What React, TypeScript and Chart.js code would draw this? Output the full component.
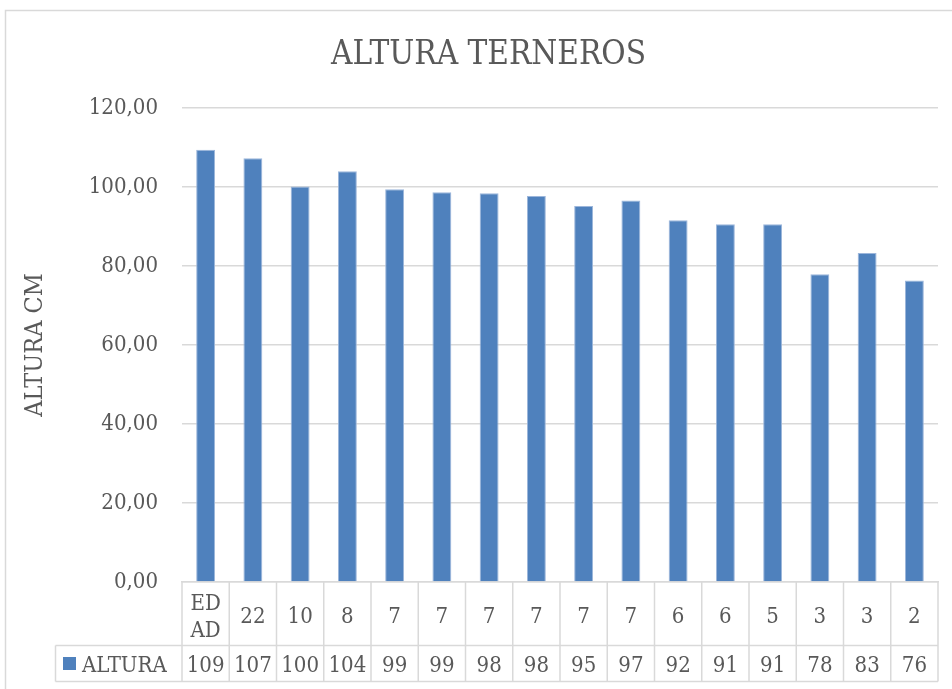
import React, { useEffect, useRef } from "react";
import { Chart, registerables } from "chart.js";

Chart.register(...registerables);

const TITLE = "ALTURA TERNEROS";
const Y_TITLE = "ALTURA CM";
const SERIES_NAME = "ALTURA";
const categories = ["EDAD", "22", "10", "8", "7", "7", "7", "7", "7", "7", "6", "6", "5", "3", "3", "2"];
const alturaValues = [109.4, 107.3, 100.1, 104.0, 99.4, 98.7, 98.4, 97.7, 95.2, 96.6, 91.6, 90.6, 90.6, 77.9, 83.3, 76.3];
const yMin = 0;
const yMax = 120;
const yStep = 20;

const FONT = "'DejaVu Serif Condensed', 'DejaVu Serif', serif";
const TEXT = "#595959";
const LINE = "#D9D9D9";
const BAR = "#4F81BD";

const fmt = (v: number) => v.toFixed(2).replace(".", ",");

const framePlugin = {
  id: "frame",
  afterLayout(chart: any) {
    // centre the title over the whole chart frame (as in the spreadsheet chart)
    if (chart.titleBlock) {
      chart.titleBlock.left = 25;
      chart.titleBlock.right = 952;
    }
  },
  beforeDraw(chart: any) {
    const ctx = chart.ctx;
    ctx.save();
    ctx.fillStyle = "#ffffff";
    ctx.fillRect(0, 0, chart.width, chart.height);
    ctx.strokeStyle = LINE;
    ctx.lineWidth = 1.5;
    ctx.strokeRect(5.5, 10.5, chart.width + 20, chart.height + 20);
    ctx.restore();
  },
};

const tablePlugin = {
  id: "dataTable",
  afterDraw(chart: any) {
    const ctx = chart.ctx;
    const xs = chart.scales.x;
    const area = chart.chartArea;
    const n = categories.length;
    const colW = (area.right - area.left) / n;
    const row1Top = area.bottom;
    const row1Bottom = 645.5;
    const row2Bottom = 681.5;
    const legendLeft = 55.5;
    ctx.save();
    ctx.strokeStyle = LINE;
    ctx.lineWidth = 1.5;
    ctx.beginPath();
    ctx.moveTo(legendLeft, row1Bottom);
    ctx.lineTo(area.right, row1Bottom);
    ctx.moveTo(legendLeft, row2Bottom);
    ctx.lineTo(area.right, row2Bottom);
    ctx.moveTo(legendLeft, row1Bottom);
    ctx.lineTo(legendLeft, row2Bottom);
    for (let i = 0; i <= n; i++) {
      const x = i < n ? xs.getPixelForValue(i) - colW / 2 : xs.getPixelForValue(n - 1) + colW / 2;
      ctx.moveTo(x, row1Top);
      ctx.lineTo(x, row2Bottom);
    }
    ctx.stroke();

    ctx.font = `22px ${FONT}`;
    ctx.fillStyle = TEXT;
    ctx.textAlign = "center";
    ctx.textBaseline = "alphabetic";
    for (let i = 0; i < n; i++) {
      const cx = xs.getPixelForValue(i);
      const label = categories[i];
      if (ctx.measureText(label).width > colW - 8) {
        const half = Math.ceil(label.length / 2);
        ctx.fillText(label.slice(0, half), cx, 609.5);
        ctx.fillText(label.slice(half), cx, 636.5);
      } else {
        ctx.fillText(label, cx, 623);
      }
      ctx.fillText(String(Math.round(alturaValues[i])), cx, 671.5);
    }
    ctx.fillStyle = BAR;
    ctx.fillRect(63, 657, 13, 13);
    ctx.fillStyle = TEXT;
    ctx.textAlign = "left";
    ctx.fillText(SERIES_NAME, 82, 671.5);
    ctx.restore();
  },
};

export default function App() {
  const ref = useRef<HTMLCanvasElement | null>(null);
  useEffect(() => {
    if (!ref.current) return;
    const chart = new Chart(ref.current, {
      type: "bar",
      data: {
        labels: categories,
        datasets: [
          {
            label: SERIES_NAME,
            data: alturaValues,
            backgroundColor: BAR,
            borderColor: "#9CB6DB",
            borderWidth: 1,
            categoryPercentage: 1,
            barPercentage: 0.4,
          },
        ],
      },
      options: {
        responsive: false,
        animation: false,
        devicePixelRatio: 1,
        layout: { padding: { left: 0, right: 14, top: 0, bottom: 107 } },
        plugins: {
          legend: { display: false },
          tooltip: { enabled: false },
          title: {
            display: true,
            text: TITLE,
            color: TEXT,
            font: { family: FONT, size: 33, weight: "normal" },
            padding: { top: 35.5, bottom: 32.9 },
          },
        },
        scales: {
          x: {
            type: "category",
            offset: true,
            ticks: { display: false },
            grid: { display: false },
            border: { display: true, color: LINE, width: 1.5 },
            afterFit(scale: any) {
              scale.height = 0;
            },
          },
          y: {
            min: yMin,
            max: yMax,
            ticks: {
              stepSize: yStep,
              color: TEXT,
              padding: 24,
              font: { family: FONT, size: 22 },
              callback: (v: any) => fmt(Number(v)),
            },
            grid: { color: LINE, lineWidth: 1.5, drawTicks: false },
            border: { display: false },
            title: {
              display: true,
              text: Y_TITLE,
              color: TEXT,
              font: { family: FONT, size: 25 },
              padding: { top: 20, bottom: 0 },
            },
            afterFit(scale: any) {
              scale.width = 182;
            },
          },
        },
      },
      plugins: [framePlugin, tablePlugin],
    });
    return () => chart.destroy();
  }, []);
  return (
    <div style={{ position: "absolute", left: 0, top: 0, width: 952, height: 689 }}>
      <canvas ref={ref} width={952} height={689} style={{ display: "block" }} />
    </div>
  );
}
